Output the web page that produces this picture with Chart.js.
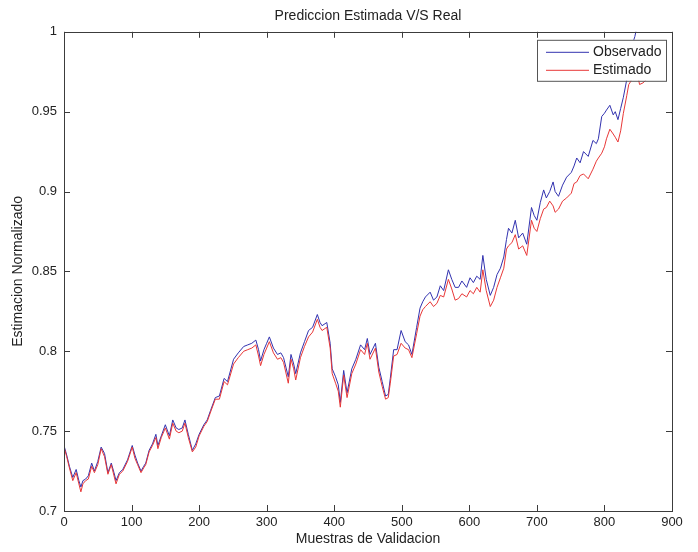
<!DOCTYPE html>
<html>
<head>
<meta charset="utf-8">
<script src="https://cdn.jsdelivr.net/npm/chart.js@4.4.1/dist/chart.umd.min.js"></script>
<style>
  html, body { margin: 0; padding: 0; background: #fff; }
  canvas { display: block; }
</style>
</head>
<body>
<canvas id="chart" width="698" height="552"></canvas>
<script>
// sample index along the validation set
const muestras = [
  0, 4, 8, 13, 18, 22, 25, 28, 32, 36, 41, 45, 50, 55, 60, 65, 70, 74, 77, 82,
  87, 94, 101, 105, 109, 114, 118, 121, 126, 131, 136, 139, 144, 150, 156, 161, 166, 170, 175, 179,
  184, 190, 195, 200, 207, 212, 217, 224, 230, 237, 242, 251, 258, 266, 272, 278, 284, 288, 291, 296,
  300, 304, 310, 316, 321, 325, 332, 336, 340, 343, 350, 356, 362, 368, 375, 379, 382, 389, 394, 397,
  402, 406, 409, 414, 419, 426, 432, 439, 445, 449, 453, 461, 466, 471, 476, 480, 483, 488, 493, 499,
  505, 510, 515,
  522, 527, 531, 535, 542, 547, 552, 557, 562, 569, 574, 579, 584, 589, 596, 601, 606, 611, 616, 620,
  625, 631, 636, 641, 646, 651, 655, 658, 663, 668, 673, 679, 685, 692, 696, 700, 705, 710, 714, 719,
  724, 727, 732, 738, 744, 751, 755, 759, 764, 769, 776, 783, 788, 791, 796, 800, 803, 808, 813, 816,
  820, 824, 828, 833, 836, 839, 842, 845, 848, 852, 857, 862, 868
];

const observado = [
  0.741, 0.735, 0.728, 0.721, 0.726, 0.719, 0.715, 0.719, 0.720, 0.722, 0.730, 0.725, 0.731, 0.740, 0.736, 0.724, 0.730, 0.724, 0.719, 0.724,
  0.726, 0.732, 0.741, 0.735, 0.730, 0.725, 0.728, 0.730, 0.738, 0.742, 0.748, 0.741, 0.747, 0.754, 0.747, 0.757, 0.752, 0.751, 0.752, 0.757,
  0.748, 0.738, 0.742, 0.748, 0.754, 0.757, 0.763, 0.771, 0.772, 0.783, 0.781, 0.795, 0.799, 0.803, 0.804, 0.805, 0.807, 0.801, 0.794, 0.801,
  0.805, 0.809, 0.802, 0.798, 0.799, 0.796, 0.784, 0.798, 0.792, 0.786, 0.799, 0.806, 0.813, 0.815, 0.823, 0.818, 0.816, 0.818, 0.805, 0.789,
  0.784, 0.779, 0.768, 0.788, 0.774, 0.789, 0.795, 0.804, 0.801, 0.808, 0.798, 0.805, 0.790, 0.781, 0.772, 0.773, 0.783, 0.801, 0.801, 0.813,
  0.806, 0.804, 0.798,
  0.815, 0.827, 0.831, 0.834, 0.837, 0.832, 0.834, 0.841, 0.838, 0.851, 0.845, 0.840, 0.840, 0.844, 0.840, 0.846, 0.843, 0.847, 0.845, 0.860,
  0.845, 0.835, 0.840, 0.848, 0.852, 0.859, 0.870, 0.877, 0.874, 0.882, 0.871, 0.874, 0.867, 0.890, 0.885, 0.882, 0.893, 0.901, 0.896, 0.900,
  0.906, 0.900, 0.897, 0.904, 0.909, 0.912, 0.916, 0.921, 0.918, 0.925, 0.922, 0.932, 0.930, 0.933, 0.947, 0.949, 0.951, 0.954, 0.948, 0.950,
  0.945, 0.952, 0.959, 0.970, 0.980, 0.987, 0.993, 0.997, 1.003, 1.005, 1.006, 1.004, 1.006
];

const estimado = [
  0.740, 0.734, 0.727, 0.719, 0.724, 0.717, 0.712, 0.717, 0.719, 0.720, 0.728, 0.724, 0.729, 0.739, 0.734, 0.723, 0.729, 0.722, 0.717, 0.723,
  0.725, 0.731, 0.740, 0.733, 0.729, 0.724, 0.727, 0.729, 0.737, 0.741, 0.746, 0.739, 0.746, 0.752, 0.745, 0.755, 0.750, 0.749, 0.750, 0.755,
  0.746, 0.737, 0.740, 0.747, 0.753, 0.756, 0.762, 0.770, 0.770, 0.781, 0.779, 0.792, 0.796, 0.800, 0.801, 0.802, 0.804, 0.797, 0.791, 0.798,
  0.802, 0.806, 0.799, 0.795, 0.796, 0.793, 0.780, 0.795, 0.789, 0.782, 0.796, 0.803, 0.809, 0.812, 0.820, 0.815, 0.813, 0.815, 0.802, 0.786,
  0.780, 0.775, 0.765, 0.785, 0.771, 0.786, 0.792, 0.801, 0.798, 0.805, 0.795, 0.802, 0.787, 0.778, 0.770, 0.771, 0.780, 0.797, 0.798, 0.805,
  0.802, 0.801, 0.796,
  0.811, 0.822, 0.826, 0.828, 0.831, 0.828, 0.830, 0.835, 0.834, 0.845, 0.839, 0.832, 0.833, 0.836, 0.834, 0.838, 0.836, 0.840, 0.837, 0.851,
  0.838, 0.828, 0.832, 0.840, 0.846, 0.852, 0.864, 0.866, 0.868, 0.873, 0.864, 0.866, 0.860, 0.882, 0.877, 0.875, 0.883, 0.889, 0.890, 0.894,
  0.891, 0.887, 0.889, 0.894, 0.896, 0.899, 0.905, 0.906, 0.910, 0.911, 0.908, 0.914, 0.919, 0.921, 0.924, 0.928, 0.933, 0.939, 0.936, 0.934,
  0.931, 0.938, 0.949, 0.960, 0.967, 0.969, 0.973, 0.976, 0.975, 0.967, 0.968, 0.970, 0.972
];

const xTicks = [0, 100, 200, 300, 400, 500, 600, 700, 800, 900];
const yTicks = [0.7, 0.75, 0.8, 0.85, 0.9, 0.95, 1];

const FONT = 'Liberation Sans, Arial, Helvetica, sans-serif';
const AXIS = '#3c3c3c';

const toPoints = (ys) => muestras.map((m, i) => ({ x: m, y: ys[i] }));

// MATLAB-like box with inward ticks, plus the legend inside the axes
const matlabFrame = {
  id: 'matlabFrame',
  afterDatasetsDraw(chart) {
    const { ctx, chartArea: a, scales: { x, y } } = chart;
    ctx.save();
    ctx.strokeStyle = AXIS;
    ctx.lineWidth = 1;
    ctx.beginPath();
    xTicks.forEach(v => {
      const px = Math.round(x.getPixelForValue(v)) + 0.5;
      ctx.moveTo(px, a.bottom); ctx.lineTo(px, a.bottom - 6);
      ctx.moveTo(px, a.top); ctx.lineTo(px, a.top + 6);
    });
    yTicks.forEach(v => {
      const py = Math.round(y.getPixelForValue(v)) + 0.5;
      ctx.moveTo(a.left, py); ctx.lineTo(a.left + 6, py);
      ctx.moveTo(a.right, py); ctx.lineTo(a.right - 6, py);
    });
    ctx.stroke();
    ctx.strokeRect(Math.round(a.left) + 0.5, Math.round(a.top) + 0.5,
      Math.round(a.right - a.left), Math.round(a.bottom - a.top));

    // legend
    const bx = a.right - 135, by = a.top + 8, bw = 129, bh = 41;
    ctx.fillStyle = '#fff';
    ctx.fillRect(bx, by, bw, bh);
    ctx.strokeStyle = '#555';
    ctx.strokeRect(bx + 0.5, by + 0.5, bw, bh);
    ctx.font = '14px ' + FONT;
    ctx.textBaseline = 'middle';
    chart.data.datasets.forEach((ds, i) => {
      const ly = by + 12 + i * 18;
      ctx.strokeStyle = ds.borderColor;
      ctx.beginPath();
      ctx.moveTo(bx + 9, ly + 0.5); ctx.lineTo(bx + 52, ly + 0.5);
      ctx.stroke();
      ctx.fillStyle = '#222';
      ctx.fillText(ds.label, bx + 56, ly);
    });
    ctx.restore();
  }
};

new Chart(document.getElementById('chart'), {
  type: 'line',
  data: {
    datasets: [
      {
        label: 'Observado',
        data: toPoints(observado),
        borderColor: 'rgb(50, 50, 175)',
        borderWidth: 1,
        pointRadius: 0,
        tension: 0,
        order: 2
      },
      {
        label: 'Estimado',
        data: toPoints(estimado),
        borderColor: 'rgb(232, 55, 55)',
        borderWidth: 1,
        pointRadius: 0,
        tension: 0,
        order: 1
      }
    ]
  },
  options: {
    responsive: false,
    animation: false,
    devicePixelRatio: 1,
    layout: { padding: { left: 0, right: 26, top: 0, bottom: 0 } },
    plugins: {
      legend: { display: false },
      tooltip: { enabled: false },
      title: {
        display: true,
        fullSize: false,
        text: 'Prediccion Estimada V/S Real',
        color: '#222',
        font: { family: FONT, size: 14, weight: 'normal' },
        padding: { top: 8, bottom: 7 }
      }
    },
    scales: {
      x: {
        type: 'linear',
        min: 0,
        max: 900,
        afterBuildTicks: (scale) => { scale.ticks = xTicks.map(v => ({ value: v })); },
        afterFit: (scale) => { scale.height = 41; },
        grid: { display: false, drawTicks: false },
        border: { display: false },
        ticks: {
          color: '#222',
          padding: 4,
          maxRotation: 0,
          font: { family: FONT, size: 13 }
        },
        title: {
          display: true,
          text: 'Muestras de Validacion',
          color: '#222',
          font: { family: FONT, size: 14 },
          padding: { top: 0, bottom: 4 }
        }
      },
      y: {
        min: 0.7,
        max: 1,
        afterBuildTicks: (scale) => { scale.ticks = yTicks.map(v => ({ value: v })); },
        afterFit: (scale) => { scale.width = 64; },
        grid: { display: false, drawTicks: false },
        border: { display: false },
        ticks: {
          color: '#222',
          padding: 7,
          font: { family: FONT, size: 13 },
          callback: (v) => String(Number(v.toFixed(2)))
        },
        title: {
          display: true,
          text: 'Estimacion Normalizado',
          color: '#222',
          font: { family: FONT, size: 14 },
          padding: { top: 10, bottom: 0 }
        }
      }
    }
  },
  plugins: [matlabFrame]
});
</script>
</body>
</html>
